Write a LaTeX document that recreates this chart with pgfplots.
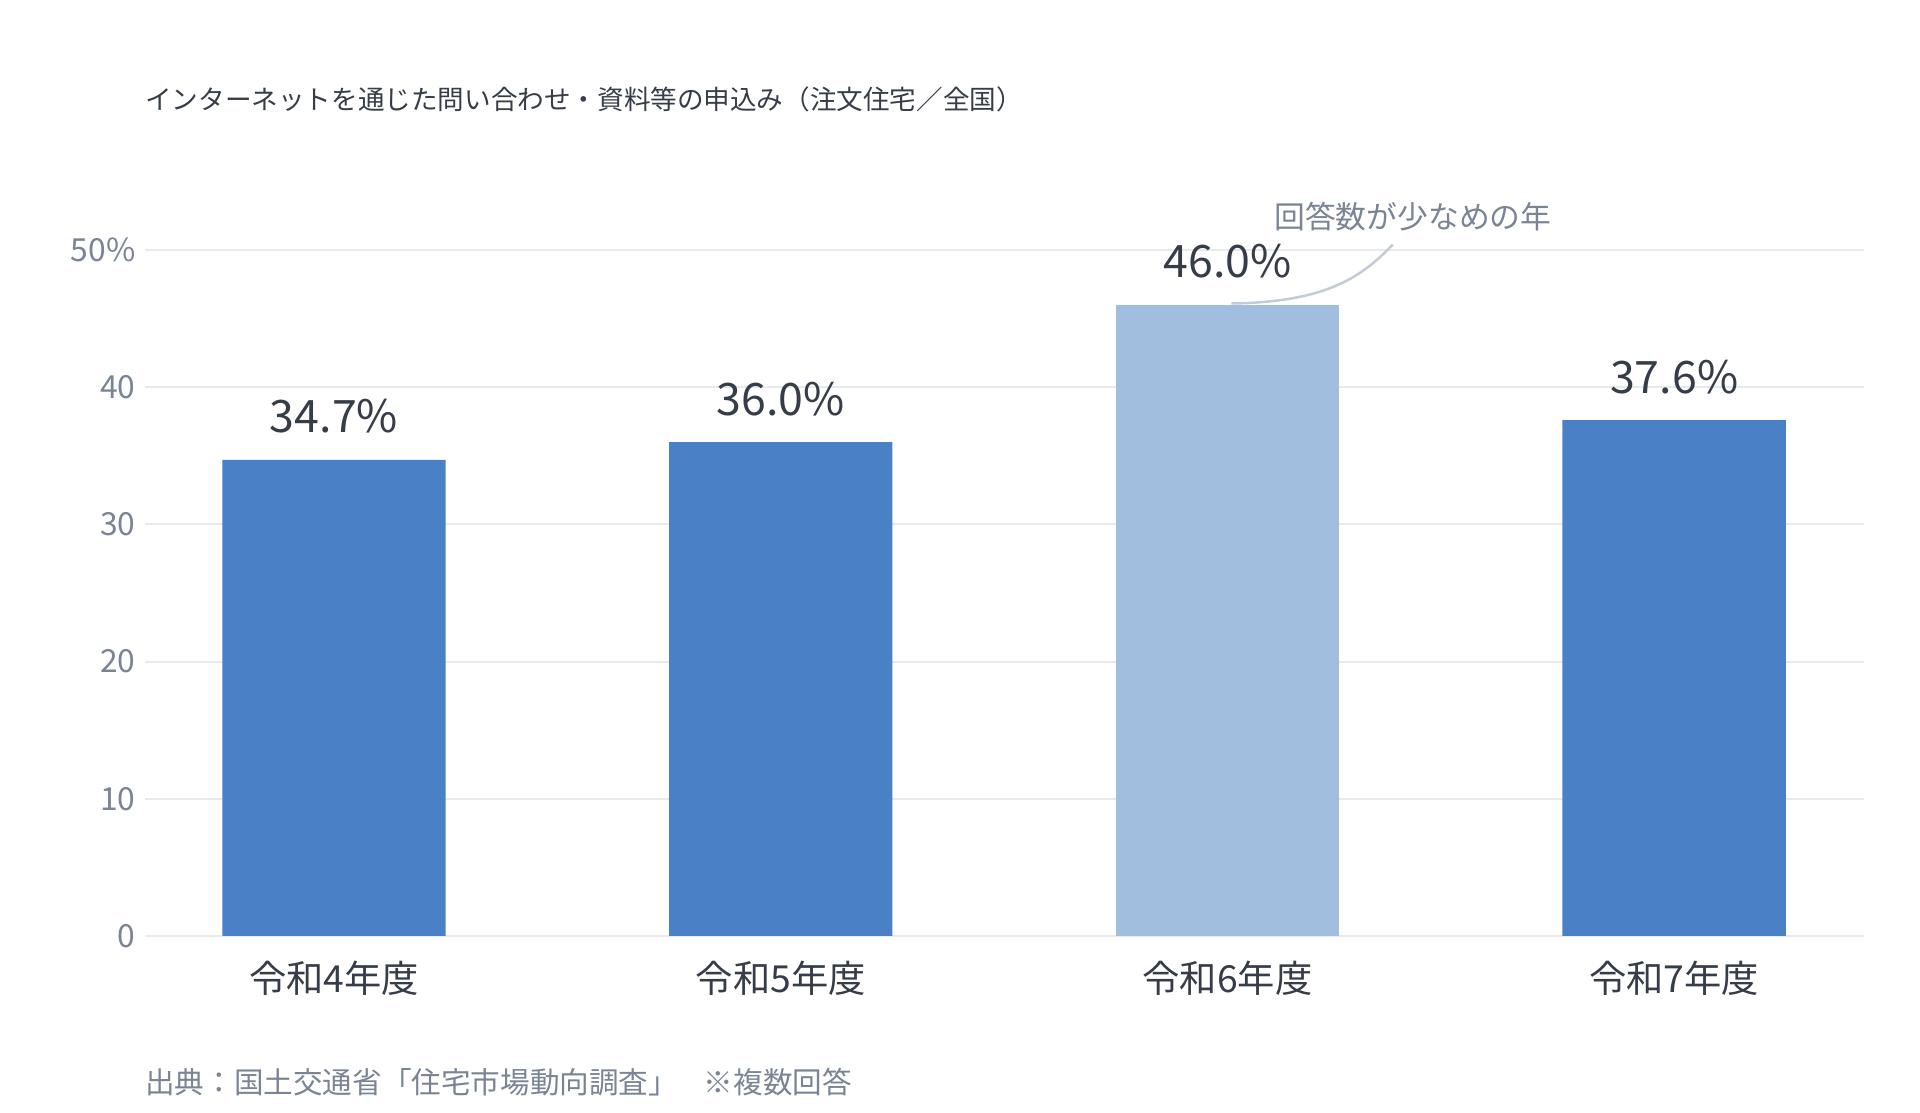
\documentclass[border=0pt]{standalone}
\usepackage{fontspec}
\setmainfont{Noto Sans CJK JP}
\usepackage{pgfplots}
\pgfplotsset{compat=1.18}

\definecolor{barblue}{HTML}{4A80C6}
\definecolor{barlight}{HTML}{A1BEDF}
\definecolor{txtdark}{HTML}{363D48}
\definecolor{txtgray}{HTML}{7A8494}
\definecolor{gridc}{HTML}{E6E9ED}
\definecolor{curvec}{HTML}{C3CBD5}

\begin{document}
\begin{tikzpicture}[x=1pt,y=1pt]
\path[use as bounding box] (0,0) rectangle (1920,1113);

% title and source
\node[anchor=base west, inner sep=0, text=txtdark, font=\fontsize{26.6}{30}\selectfont]
  at (145,1003) {インターネットを通じた問い合わせ・資料等の申込み（注文住宅／全国）};
\node[anchor=base west, inner sep=0, text=txtgray, font=\fontsize{29.6}{32}\selectfont]
  at (145,19) {出典：国土交通省「住宅市場動向調査」\hspace{26pt}※複数回答};

\begin{axis}[
  at={(145pt,177pt)}, anchor=south west,
  scale only axis, width=1719pt, height=686pt,
  xmin=-0.423, xmax=3.425, ymin=0, ymax=50,
  axis line style={draw=none},
  major tick length=0pt,
  ymajorgrids, grid style={gridc, line width=2pt},
  ytick={0,10,20,30,40,50},
  yticklabels={0,10,20,30,40,50\%},
  yticklabel style={text=txtgray, font=\fontsize{31.8}{34}\selectfont, anchor=east, xshift=-6pt},
  xtick={0,1,2,3},
  xticklabels={令和4年度,令和5年度,令和6年度,令和7年度},
  xticklabel style={text=txtdark, font=\fontsize{37.3}{42}\selectfont, anchor=base, yshift=-57pt},
  ybar, bar width=0.5, bar shift=0pt,
  /pgf/number format/assume math mode=true,
  nodes near coords={\pgfmathprintnumber[fixed,fixed zerofill,precision=1]{\pgfplotspointmeta}\%},
  every node near coord/.append style={text=txtdark, font=\fontsize{44.7}{50}\selectfont, anchor=base, yshift=27pt, inner sep=0pt},
  clip=false,
]
\addplot[fill=barblue, draw=none] coordinates {(0,34.7) (1,36.0) (3,37.6)};
\addplot[fill=barlight, draw=none] coordinates {(2,46.0)};

\draw[curvec, line width=2.5pt] (axis cs:2.009,46.1) .. controls (axis cs:2.22,46.2) and (axis cs:2.30,48.0) .. (axis cs:2.37,50.4);
\node[text=txtgray, font=\fontsize{30.8}{34}\selectfont, inner sep=0] at (axis cs:2.415,52.4) {回答数が少なめの年};
\end{axis}
\end{tikzpicture}
\end{document}
